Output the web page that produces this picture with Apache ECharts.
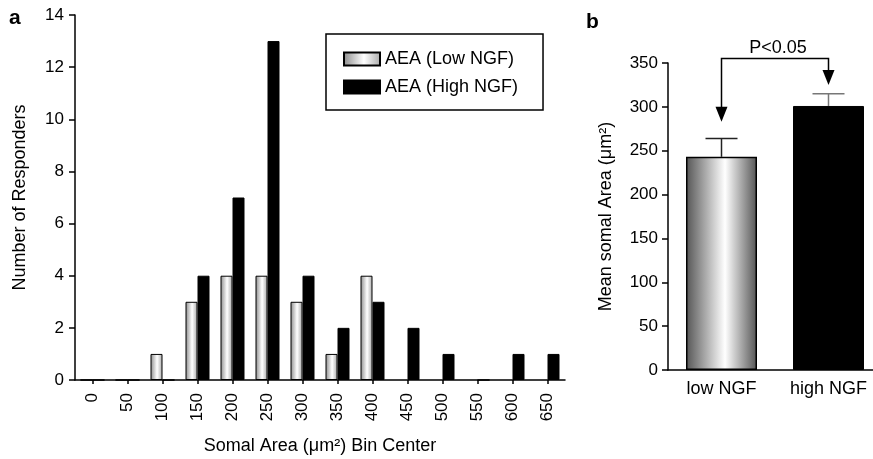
<!DOCTYPE html>
<html>
<head>
<meta charset="utf-8">
<script src="https://cdn.jsdelivr.net/npm/echarts@6/dist/echarts.min.js"></script>
<style>
  html, body { margin: 0; padding: 0; background: #fff; }
  #main { width: 873px; height: 459px; }
</style>
</head>
<body>
<div id="main"></div>
<script>
// panel a: histogram of responders
var binCenters = ['0', '50', '100', '150', '200', '250', '300', '350', '400', '450', '500', '550', '600', '650'];
var lowNGF = [0, 0, 1, 3, 4, 4, 3, 1, 4, null, null, null, null, null];
var highNGF = [0, 0, 0, 4, 7, 13, 4, 2, 3, 2, 1, 0, 1, 1];

// panel b: mean somal area
var groups = ['low NGF', 'high NGF'];
var meanArea = [243, 301];
var semUpper = [264, 315];
var errColors = ['#222', '#777'];
// bracket: [left x, left tip, right x, right tip, bracket height]
var bracket = [[0.02, 283, 0.95, 325, 355]];

var font = 'Liberation Sans';
var myChart = echarts.init(document.getElementById('main'));

var lowGrad = new echarts.graphic.LinearGradient(0, 0, 1, 0, [
  { offset: 0, color: '#8a8a8a' },
  { offset: 0.55, color: '#ffffff' },
  { offset: 1, color: '#a8a8a8' }
]);
var lowGradB = new echarts.graphic.LinearGradient(0, 0, 1, 0, [
  { offset: 0, color: '#555555' },
  { offset: 0.55, color: '#ffffff' },
  { offset: 1, color: '#555555' }
]);

var axisLine = { show: true, lineStyle: { color: '#000', width: 1.5 } };
var axisTick = { show: true, length: 6, lineStyle: { color: '#000', width: 1.5 } };

var option = {
  backgroundColor: '#fff',
  animation: false,
  textStyle: { fontFamily: font },
  graphic: [
    { type: 'text', left: 9, top: 8, style: { text: 'a', font: 'bold 21px ' + font, fill: '#000' } },
    { type: 'text', left: 586, top: 12, style: { text: 'b', font: 'bold 21px ' + font, fill: '#000' } }
  ],
  legend: {
    data: ['AEA (Low NGF)', 'AEA (High NGF)'],
    orient: 'vertical',
    left: 326,
    top: 34,
    padding: [16, 25, 14, 17],
    itemWidth: 36,
    itemHeight: 13,
    itemGap: 10,
    icon: 'rect',
    borderColor: '#000',
    borderWidth: 1.5,
    borderRadius: 0,
    textStyle: { fontSize: 18, color: '#000', fontFamily: font }
  },
  grid: [
    { left: 75, top: 15, width: 490, bottom: 79, outerBoundsMode: 'none' },
    { left: 668, top: 63, width: 214, bottom: 89, outerBoundsMode: 'none' }
  ],
  xAxis: [
    {
      type: 'category',
      gridIndex: 0,
      data: binCenters,
      axisLine: axisLine,
      axisTick: { show: true, alignWithLabel: true, length: 4, lineStyle: { color: '#000', width: 1.5 } },
      axisLabel: { rotate: 90, fontSize: 17, color: '#000', margin: 13, fontFamily: font },
      name: 'Somal Area (μm²) Bin Center',
      nameLocation: 'middle',
      nameGap: 57,
      nameTextStyle: { fontSize: 18, color: '#000', fontFamily: font }
    },
    {
      type: 'category',
      gridIndex: 1,
      data: groups,
      axisLine: axisLine,
      axisTick: { show: false },
      axisLabel: { fontSize: 18, color: '#000', margin: 10, fontFamily: font }
    }
  ],
  yAxis: [
    {
      type: 'value',
      gridIndex: 0,
      min: 0,
      max: 14,
      interval: 2,
      splitLine: { show: false },
      axisLine: axisLine,
      axisTick: axisTick,
      axisLabel: { fontSize: 17, color: '#000', margin: 11, fontFamily: font },
      name: 'Number of Responders',
      nameLocation: 'middle',
      nameGap: 46,
      nameTextStyle: { fontSize: 18, color: '#000', fontFamily: font }
    },
    {
      type: 'value',
      gridIndex: 1,
      min: 0,
      max: 350,
      interval: 50,
      splitLine: { show: false },
      axisLine: axisLine,
      axisTick: axisTick,
      axisLabel: { fontSize: 17, color: '#000', margin: 10, fontFamily: font },
      name: 'Mean somal Area (μm²)',
      nameLocation: 'middle',
      nameGap: 53,
      nameTextStyle: { fontSize: 18, color: '#000', fontFamily: font }
    }
  ],
  series: [
    {
      name: 'AEA (Low NGF)',
      type: 'bar',
      xAxisIndex: 0,
      yAxisIndex: 0,
      barWidth: 12,
      barGap: '0%',
      itemStyle: { color: lowGrad, borderColor: '#000', borderWidth: 1 },
      data: lowNGF
    },
    {
      name: 'AEA (High NGF)',
      type: 'bar',
      xAxisIndex: 0,
      yAxisIndex: 0,
      barWidth: 12,
      barGap: '0%',
      itemStyle: { color: '#000', borderColor: '#000', borderWidth: 1 },
      data: highNGF
    },
    {
      name: 'mean',
      type: 'bar',
      xAxisIndex: 1,
      yAxisIndex: 1,
      barWidth: 71,
      data: meanArea.map(function (v, i) {
        return {
          value: v,
          itemStyle: i === 0
            ? { color: lowGradB, borderColor: '#000', borderWidth: 1.5 }
            : { color: '#000', borderColor: '#000', borderWidth: 1 }
        };
      })
    },
    {
      name: 'sem',
      type: 'custom',
      xAxisIndex: 1,
      yAxisIndex: 1,
      z: 5,
      data: meanArea.map(function (v, i) { return [i, v, semUpper[i]]; }),
      renderItem: function (params, api) {
        var base = api.coord([api.value(0), api.value(1)]);
        var top = api.coord([api.value(0), api.value(2)]);
        var style = { stroke: errColors[params.dataIndex], lineWidth: 1.5 };
        return {
          type: 'group',
          children: [
            { type: 'line', shape: { x1: top[0], y1: base[1], x2: top[0], y2: top[1] }, style: style },
            { type: 'line', shape: { x1: top[0] - 16, y1: top[1], x2: top[0] + 16, y2: top[1] }, style: style }
          ]
        };
      }
    },
    {
      name: 'bracket',
      type: 'custom',
      xAxisIndex: 1,
      yAxisIndex: 1,
      clip: false,
      z: 6,
      data: bracket,
      renderItem: function (params, api) {
        var h = api.value(4);
        var l0 = api.coord([api.value(0), h]);
        var lt = api.coord([api.value(0), api.value(1)]);
        var r0 = api.coord([api.value(2), h]);
        var rt = api.coord([api.value(2), api.value(3)]);
        var st = { stroke: '#000', lineWidth: 1.5, fill: null };
        var head = function (p) {
          return {
            type: 'polygon',
            shape: { points: [[p[0] - 6, p[1] - 15], [p[0] + 6, p[1] - 15], [p[0], p[1]]] },
            style: { fill: '#000' }
          };
        };
        return {
          type: 'group',
          children: [
            { type: 'polyline', shape: { points: [[lt[0], lt[1] - 14], l0, r0, [rt[0], rt[1] - 14]] }, style: st },
            head(lt),
            head(rt),
            {
              type: 'text',
              style: {
                text: 'P<0.05',
                x: (l0[0] + r0[0]) / 2 + 3,
                y: l0[1] - 2,
                align: 'center',
                verticalAlign: 'bottom',
                font: '18px ' + font,
                fill: '#000'
              }
            }
          ]
        };
      }
    }
  ]
};

myChart.setOption(option);
</script>
</body>
</html>
